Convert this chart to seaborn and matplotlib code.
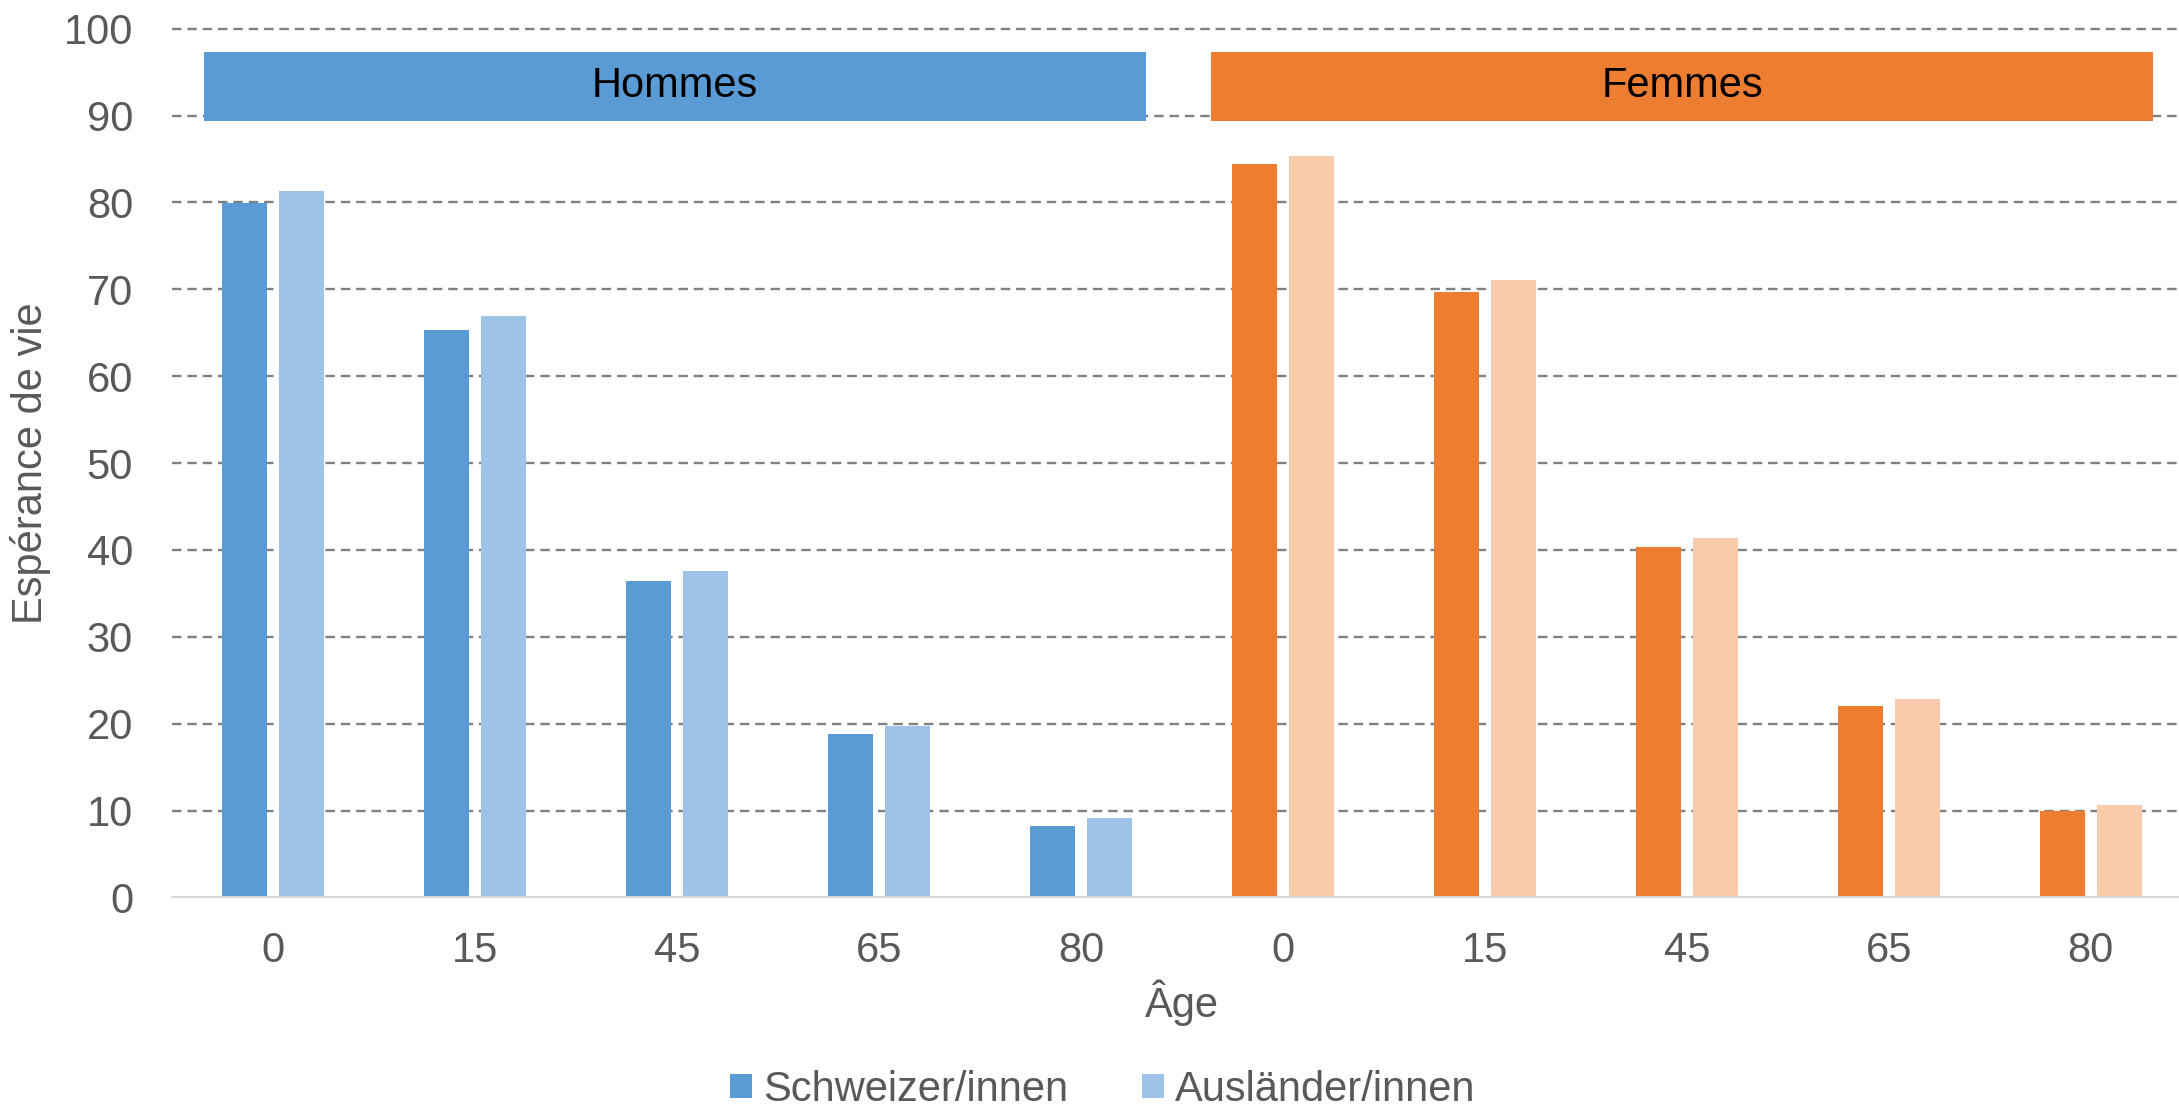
import matplotlib
matplotlib.use("Agg")
import matplotlib.pyplot as plt
from matplotlib.patches import Patch
import seaborn as sns
import pandas as pd

# ---- data ----
ages = ["0", "15", "45", "65", "80"]
sexes = ["Hommes", "Femmes"]
nationalities = ["Schweizer/innen", "Ausländer/innen"]
hommes_suisses = [79.9, 65.3, 36.4, 18.8, 8.2]
hommes_etrangers = [81.3, 66.9, 37.6, 19.7, 9.1]
femmes_suisses = [84.4, 69.7, 40.3, 22.0, 9.9]
femmes_etrangers = [85.4, 71.1, 41.4, 22.8, 10.6]
y_ticks = [0, 10, 20, 30, 40, 50, 60, 70, 80, 90, 100]

# header bands (sex labels above the bars), in data units
header_left = [-0.342, 4.646]
header_right = [4.324, 9.31]
header_bottom = 89.4
header_top = 97.35

blue_dark, blue_light = "#5B9BD5", "#9DC3E6"
orange_dark, orange_light = "#ED7D31", "#F8CBAD"
text_gray = "#595959"

rows = []
order = []
for sex, suisse, etr in [("Hommes", hommes_suisses, hommes_etrangers),
                         ("Femmes", femmes_suisses, femmes_etrangers)]:
    for a, v1, v2 in zip(ages, suisse, etr):
        key = f"{sex}-{a}"
        order.append(key)
        rows.append({"pos": key, "nat": nationalities[0], "val": v1})
        rows.append({"pos": key, "nat": nationalities[1], "val": v2})
df = pd.DataFrame(rows)

sns.set_style("white")
plt.rcParams["font.family"] = ["Liberation Sans", "DejaVu Sans"]
FS = 30

fig = plt.figure(figsize=(21.79, 11.11), dpi=100)
ax = fig.add_axes([0.0789, 0.1922, 0.927, 0.782])

sns.barplot(data=df, x="pos", y="val", hue="nat", order=order,
            hue_order=nationalities, palette=[blue_dark, blue_light],
            saturation=1, width=0.568, gap=0.215, ax=ax, legend=False,
            zorder=3, linewidth=0, errorbar=None)

# recolor the Femmes bars
for ci, cont in enumerate(ax.containers):
    for bi, bar in enumerate(cont):
        if bi >= 5:
            bar.set_facecolor(orange_dark if ci == 0 else orange_light)

# header bands
for lab, l, r, col in zip(sexes, header_left, header_right, [blue_dark, orange_dark]):
    ax.bar((l + r) / 2, header_top - header_bottom, bottom=header_bottom,
           width=r - l, color=col, zorder=4, linewidth=0)
    ax.text((l + r) / 2, (header_top + header_bottom) / 2, lab, ha="center",
            va="center", fontsize=FS, color="black", zorder=5)

ax.set_xlim(-0.5, 9.5)
ax.set_ylim(0, 100)
ax.set_yticks(y_ticks)
ax.set_xticks(range(10))
ax.set_xticklabels(ages + ages)
ax.tick_params(axis="y", length=0, pad=28, labelsize=FS, labelcolor=text_gray)
ax.tick_params(axis="x", length=0, pad=24, labelsize=FS, labelcolor=text_gray)

ax.yaxis.grid(True, color="#808080", linewidth=1.7, linestyle=(0, (4, 2.5)), zorder=0)
ax.set_axisbelow(True)
for gl in ax.get_ygridlines():
    gl.set_clip_on(False)
ax.get_ygridlines()[0].set_visible(False)

for s in ["left", "right", "top"]:
    ax.spines[s].set_visible(False)
ax.spines["bottom"].set_color("#D9D9D9")
ax.spines["bottom"].set_linewidth(1.5)
ax.spines["bottom"].set_zorder(6)

ax.set_xlabel("Âge", fontsize=FS, color=text_gray, labelpad=6)
ax.set_ylabel("Espérance de vie", fontsize=FS, color=text_gray, labelpad=9)

handles = [Patch(facecolor=blue_dark, edgecolor="none"),
           Patch(facecolor=blue_light, edgecolor="none")]
fig.legend(handles, nationalities, loc="center", bbox_to_anchor=(0.506, 0.019),
           ncol=2, frameon=False, fontsize=FS, labelcolor=text_gray,
           handlelength=0.53, handleheight=0.53, handletextpad=0.26,
           columnspacing=1.77, borderpad=0, borderaxespad=0)

fig.savefig("out.png", dpi=100)
